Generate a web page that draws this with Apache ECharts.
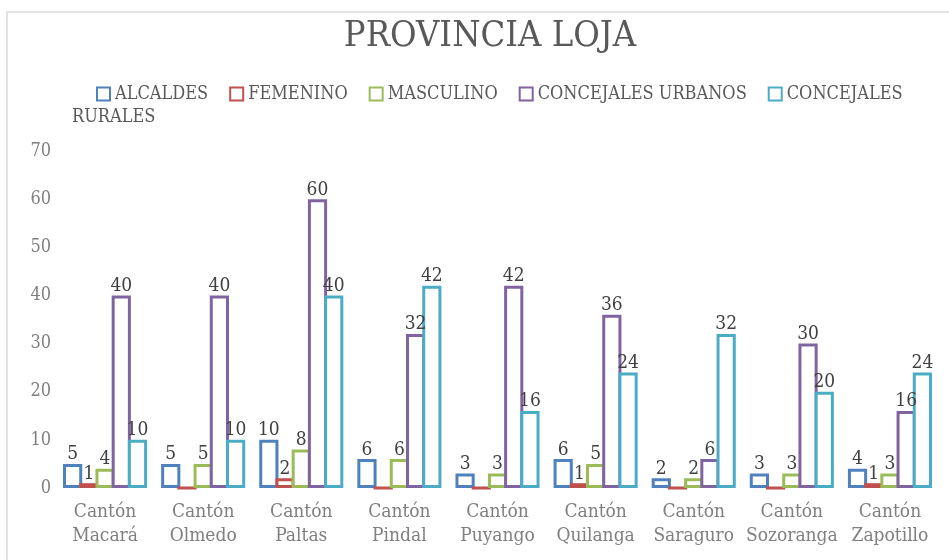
<!DOCTYPE html>
<html>
<head>
<meta charset="utf-8">
<script src="https://cdn.jsdelivr.net/npm/echarts@6/dist/echarts.min.js"></script>
<style>
  html, body { margin: 0; padding: 0; background: #fff; }
  #frame {
    position: absolute; left: 6px; top: 11px; right: 0; bottom: 0;
    border-top: 2px solid #e4e4e4; border-left: 2px solid #e4e4e4;
  }
  #chart { position: absolute; left: 0; top: 0; width: 949px; height: 560px; }
</style>
</head>
<body>
<div id="frame"></div>
<div id="chart"></div>
<script>
const cantones = ['Cantón\nMacará', 'Cantón\nOlmedo', 'Cantón\nPaltas', 'Cantón\nPindal', 'Cantón\nPuyango',
  'Cantón\nQuilanga', 'Cantón\nSaraguro', 'Cantón\nSozoranga', 'Cantón\nZapotillo']
const alcaldes = [5, 5, 10, 6, 3, 6, 2, 3, 4]
const femenino = [1, 0, 2, 0, 0, 1, 0, 0, 1]
const masculino = [4, 5, 8, 6, 3, 5, 2, 3, 3]
const concejalesUrbanos = [40, 40, 60, 32, 42, 36, 6, 30, 16]
const concejalesRurales = [10, 10, 40, 42, 16, 24, 32, 20, 24]
const yTicks = [0, 10, 20, 30, 40, 50, 60, 70]

const font = '"DejaVu Serif Condensed", "Liberation Serif", serif'

// bordes compartidos entre barras vecinas, como en Excel
const mkSeries = (name, data, color) => ({
  name,
  type: 'bar',
  data,
  barGap: '-15.6%',
  barCategoryGap: '14.3%',
  itemStyle: { color: '#fff', borderColor: color, borderWidth: 3 },
  label: {
    show: true,
    position: 'top',
    distance: 0,
    color: '#404040',
    fontFamily: font,
    fontSize: 19,
    formatter: p => (p.value === 0 ? '' : p.value)
  }
})

const chart = echarts.init(document.getElementById('chart'), null, { renderer: 'canvas' })

chart.setOption({
  backgroundColor: 'transparent',
  animation: false,
  title: {
    text: 'PROVINCIA LOJA',
    left: 485,
    textAlign: 'center',
    top: 14,
    textStyle: { fontFamily: font, fontSize: 36, fontWeight: 'normal', color: '#595959' }
  },
  legend: {
    left: 91,
    top: 80,
    itemWidth: 13,
    itemHeight: 13,
    itemGap: 21,
    icon: 'rect',
    textStyle: { fontFamily: font, fontSize: 18, color: '#595959' },
    formatter: name => (name === 'CONCEJALES RURALES' ? 'CONCEJALES' : name)
  },
  graphic: [{
    type: 'text',
    left: 72,
    top: 108,
    style: { text: 'RURALES', font: '18px ' + font, fill: '#595959' }
  }],
  grid: { left: 56, right: 10, top: 151, bottom: 72 },
  xAxis: {
    type: 'category',
    data: cantones,
    axisLine: { show: false },
    axisTick: { show: false },
    axisLabel: { fontFamily: font, fontSize: 19, color: '#7f7f7f', lineHeight: 24, margin: 12, interval: 0 }
  },
  yAxis: {
    type: 'value',
    min: yTicks[0],
    max: yTicks[yTicks.length - 1],
    interval: 10,
    splitLine: { show: false },
    axisLine: { show: false },
    axisLabel: { fontFamily: font, fontSize: 18, color: '#7f7f7f', margin: 5 }
  },
  series: [
    mkSeries('ALCALDES', alcaldes, '#4F81BD'),
    mkSeries('FEMENINO', femenino, '#C0504D'),
    mkSeries('MASCULINO', masculino, '#9BBB59'),
    mkSeries('CONCEJALES URBANOS', concejalesUrbanos, '#8064A2'),
    mkSeries('CONCEJALES RURALES', concejalesRurales, '#4BACC6')
  ]
})
</script>
</body>
</html>
